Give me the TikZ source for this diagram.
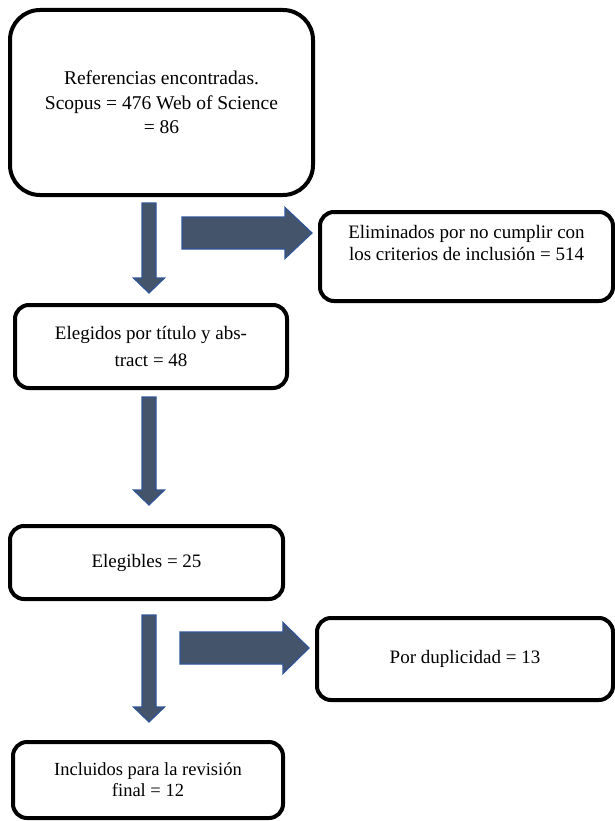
\documentclass[tikz,border=0pt]{standalone}
\usepackage{fontspec}
\setmainfont{Liberation Serif}
\usepackage{xcolor}
\definecolor{arrowfill}{RGB}{68,84,106}
\definecolor{arrowedge}{RGB}{47,85,151}

\begin{document}
\begin{tikzpicture}[x=1pt, y=-1pt,
box/.style={draw, line width=4pt, rounded corners=14pt, align=center, inner sep=0pt, font=\fontsize{19}{23}\selectfont},
blockarrow/.style={fill=arrowfill, draw=arrowedge, line width=1.2pt, line join=miter}
]
    % Page
    \useasboundingbox (0, 0) rectangle (615, 821);

    % Boxes
    \node (found) at (161.5, 102.5) [box, rounded corners=30pt, minimum width=303pt, minimum height=185pt,
        font=\fontsize{19.5}{24.5}\selectfont]
        {Referencias encontradas.\\Scopus = 476 Web of Science\\= 86};
    \node (removed) at (466.5, 256.5) [box, minimum width=293pt, minimum height=89pt, text depth=27pt,
        font=\fontsize{19}{21.5}\selectfont]
        {Eliminados por no cumplir con\\los criterios de inclusión = 514};
    \node (screened) at (151, 346.5) [box, minimum width=272pt, minimum height=83pt,
        font=\fontsize{19}{27}\selectfont]
        {Elegidos por título y abs-\\tract = 48};
    \node (eligible) at (146.5, 562.5) [box, minimum width=273pt, minimum height=73pt] {Elegibles = 25};
    \node (duplicates) at (465, 659) [box, minimum width=296pt, minimum height=82pt] {Por duplicidad = 13};
    \node (included) at (148, 780) [box, minimum width=270pt, minimum height=76pt,
        font=\fontsize{18.5}{21}\selectfont]
        {Incluidos para la revisión\\final = 12};

    % Down arrows
    \foreach \ytop/\ytip in {203/293, 397/505, 615/722}
        \draw [blockarrow] (142, \ytop) -- (156, \ytop) -- (156, \ytip-15) -- (164.5, \ytip-15)
            -- (149, \ytip) -- (133.5, \ytip-15) -- (142, \ytip-15) -- cycle;

    % Right arrows
    \foreach \xs/\xh/\xt/\yc in {182/285/312/233, 180/283/309/648}
        \draw [blockarrow] (\xs, \yc-16) -- (\xh, \yc-16) -- (\xh, \yc-25.5) -- (\xt, \yc)
            -- (\xh, \yc+25.5) -- (\xh, \yc+16) -- (\xs, \yc+16) -- cycle;

\end{tikzpicture}
\end{document}
